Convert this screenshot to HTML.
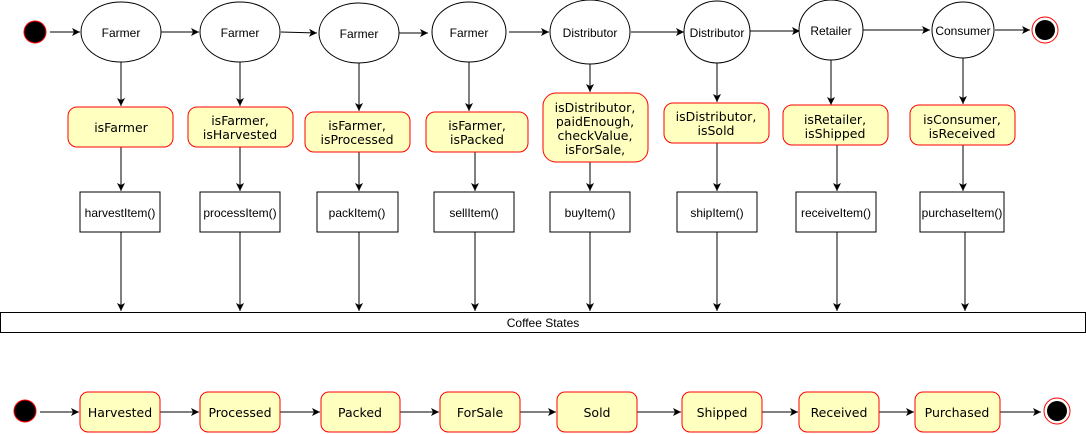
<!DOCTYPE html>
<html><head><meta charset="utf-8"><style>
html,body{margin:0;padding:0;background:#fff;}
svg{display:block;}
.h{font-family:"Liberation Sans",sans-serif;font-size:12px;fill:#000;}
.d{font-family:"DejaVu Sans",sans-serif;font-size:12.5px;fill:#000;}
.y{fill:#ffffc0;stroke:#ff0000;stroke-width:1;}
.l{stroke:#000;stroke-width:1;fill:none;}
</style></head><body>
<svg width="1086" height="434" viewBox="0 0 1086 434" xmlns="http://www.w3.org/2000/svg">
<defs><marker id="a" markerWidth="10" markerHeight="10" refX="8" refY="4" orient="auto" markerUnits="userSpaceOnUse"><path d="M0,0 L8,4 L0,8 L2,4 z" fill="#000"/></marker></defs>
<circle cx="35" cy="32" r="11" fill="#000" stroke="#f00"/>
<g class="l" marker-end="url(#a)">
<line x1="50" y1="32" x2="80" y2="32"/>
<line x1="161" y1="32" x2="199" y2="32"/>
<line x1="281" y1="32" x2="317" y2="33"/>
<line x1="399" y1="33" x2="428" y2="33"/>
<line x1="509" y1="32" x2="549" y2="32"/>
<line x1="631" y1="32" x2="684" y2="32"/>
<line x1="750" y1="31" x2="800" y2="31"/>
<line x1="862" y1="30" x2="930" y2="30"/>
<line x1="995" y1="30" x2="1030" y2="30"/>
</g>
<g fill="#fff" stroke="#000">
<ellipse cx="121" cy="32" rx="40" ry="30"/>
<ellipse cx="240" cy="32" rx="40" ry="30"/>
<ellipse cx="359" cy="33" rx="40" ry="30"/>
<ellipse cx="469" cy="32" rx="37" ry="30"/>
<ellipse cx="590" cy="32" rx="40" ry="32"/>
<ellipse cx="717" cy="32" rx="33" ry="31"/>
<ellipse cx="831" cy="30" rx="32" ry="30"/>
<ellipse cx="963" cy="30" rx="31" ry="28"/>
</g>
<circle cx="1045" cy="30" r="13" fill="#fff" stroke="#f00"/>
<circle cx="1045" cy="30" r="10" fill="#000"/>
<g class="h" text-anchor="middle">
<text x="121" y="37">Farmer</text><text x="240" y="37">Farmer</text><text x="359" y="38">Farmer</text><text x="469" y="37">Farmer</text>
<text x="590" y="37">Distributor</text><text x="717" y="37">Distributor</text><text x="831" y="35">Retailer</text><text x="963" y="35">Consumer</text>
</g>
<g class="l" marker-end="url(#a)">
<line x1="121" y1="62" x2="121" y2="106"/><line x1="240" y1="62" x2="240" y2="106"/><line x1="359" y1="63" x2="359" y2="111"/><line x1="469" y1="62" x2="469" y2="111"/>
<line x1="590" y1="64" x2="590" y2="92"/><line x1="717" y1="63" x2="717" y2="102"/><line x1="831" y1="60" x2="831" y2="105"/><line x1="963" y1="58" x2="963" y2="104"/>
<line x1="121" y1="147" x2="121" y2="191"/><line x1="240" y1="147" x2="240" y2="191"/><line x1="359" y1="152" x2="359" y2="191"/><line x1="475" y1="152" x2="475" y2="191"/>
<line x1="590" y1="162" x2="590" y2="191"/><line x1="717" y1="143" x2="717" y2="191"/><line x1="837" y1="145" x2="837" y2="191"/><line x1="963" y1="145" x2="963" y2="191"/>
<line x1="121" y1="232" x2="121" y2="311"/><line x1="240" y1="232" x2="240" y2="311"/><line x1="359" y1="232" x2="359" y2="311"/><line x1="475" y1="232" x2="475" y2="311"/>
<line x1="590" y1="232" x2="590" y2="311"/><line x1="717" y1="232" x2="717" y2="311"/><line x1="837" y1="232" x2="837" y2="311"/><line x1="965" y1="232" x2="965" y2="311"/>
</g>
<rect class="y" x="68" y="107" width="105" height="40" rx="9"/>
<rect class="y" x="188" y="107" width="105" height="40" rx="9"/>
<rect class="y" x="305" y="112" width="105" height="40" rx="9"/>
<rect class="y" x="426" y="112" width="102" height="40" rx="9"/>
<rect class="y" x="543" y="93" width="105" height="69" rx="13"/>
<rect class="y" x="664" y="103" width="105" height="40" rx="9"/>
<rect class="y" x="783" y="105" width="105" height="40" rx="9"/>
<rect class="y" x="910" y="105" width="105" height="40" rx="9"/>
<g class="d" text-anchor="middle">
<text x="121" y="132">isFarmer</text>
<text x="240" y="125">isFarmer,</text><text x="240" y="139">isHarvested</text>
<text x="357" y="130">isFarmer,</text><text x="357" y="144">isProcessed</text>
<text x="477" y="130">isFarmer,</text><text x="477" y="144">isPacked</text>
<text x="595" y="112">isDistributor,</text><text x="595" y="126">paidEnough,</text><text x="595" y="140">checkValue,</text><text x="595" y="154">isForSale,</text>
<text x="716" y="121">isDistributor,</text><text x="716" y="135">isSold</text>
<text x="835" y="124">isRetailer,</text><text x="835" y="138">isShipped</text>
<text x="962" y="124">isConsumer,</text><text x="962" y="138">isReceived</text>
</g>
<g fill="#fff" stroke="#000">
<rect x="80" y="192" width="80" height="40"/><rect x="200" y="192" width="80" height="40"/><rect x="317" y="192" width="81" height="40"/><rect x="434" y="192" width="80" height="40"/>
<rect x="550" y="192" width="80" height="40"/><rect x="677" y="192" width="80" height="40"/><rect x="796" y="192" width="80" height="40"/><rect x="920" y="192" width="84" height="40"/>
</g>
<g class="h" text-anchor="middle">
<text x="120" y="217">harvestItem()</text><text x="240" y="217">processItem()</text><text x="357" y="217">packItem()</text><text x="474" y="217">sellItem()</text>
<text x="590" y="217">buyItem()</text><text x="717" y="217">shipItem()</text><text x="836" y="217">receiveItem()</text><text x="962" y="217">purchaseItem()</text>
</g>
<rect x="0.5" y="312.5" width="1085" height="20" fill="#fff" stroke="#000"/>
<text class="h" x="543" y="327" text-anchor="middle">Coffee States</text>
<circle cx="25" cy="411" r="11" fill="#000" stroke="#f00"/>
<g class="l" marker-end="url(#a)">
<line x1="40" y1="412" x2="79" y2="412"/><line x1="160" y1="412" x2="199" y2="412"/><line x1="280" y1="412" x2="320" y2="412"/><line x1="400" y1="412" x2="439" y2="412"/>
<line x1="520" y1="412" x2="556" y2="412"/><line x1="637" y1="412" x2="681" y2="412"/><line x1="762" y1="412" x2="798" y2="412"/><line x1="879" y1="412" x2="914" y2="412"/><line x1="1000" y1="412" x2="1041" y2="412"/>
</g>
<rect class="y" x="80" y="392" width="80" height="40" rx="8"/>
<rect class="y" x="200" y="392" width="80" height="40" rx="8"/>
<rect class="y" x="321" y="392" width="79" height="40" rx="8"/>
<rect class="y" x="440" y="392" width="80" height="40" rx="8"/>
<rect class="y" x="557" y="392" width="80" height="40" rx="8"/>
<rect class="y" x="682" y="392" width="80" height="40" rx="8"/>
<rect class="y" x="799" y="392" width="80" height="40" rx="8"/>
<rect class="y" x="915" y="392" width="85" height="40" rx="8"/>
<g class="d" text-anchor="middle">
<text x="120" y="417">Harvested</text><text x="240" y="417">Processed</text><text x="360" y="417">Packed</text><text x="480" y="417">ForSale</text>
<text x="597" y="417">Sold</text><text x="722" y="417">Shipped</text><text x="839" y="417">Received</text><text x="957" y="417">Purchased</text>
</g>
<circle cx="1057" cy="411" r="13" fill="#fff" stroke="#f00"/>
<circle cx="1057" cy="411" r="10" fill="#000"/>
</svg>
</body></html>
